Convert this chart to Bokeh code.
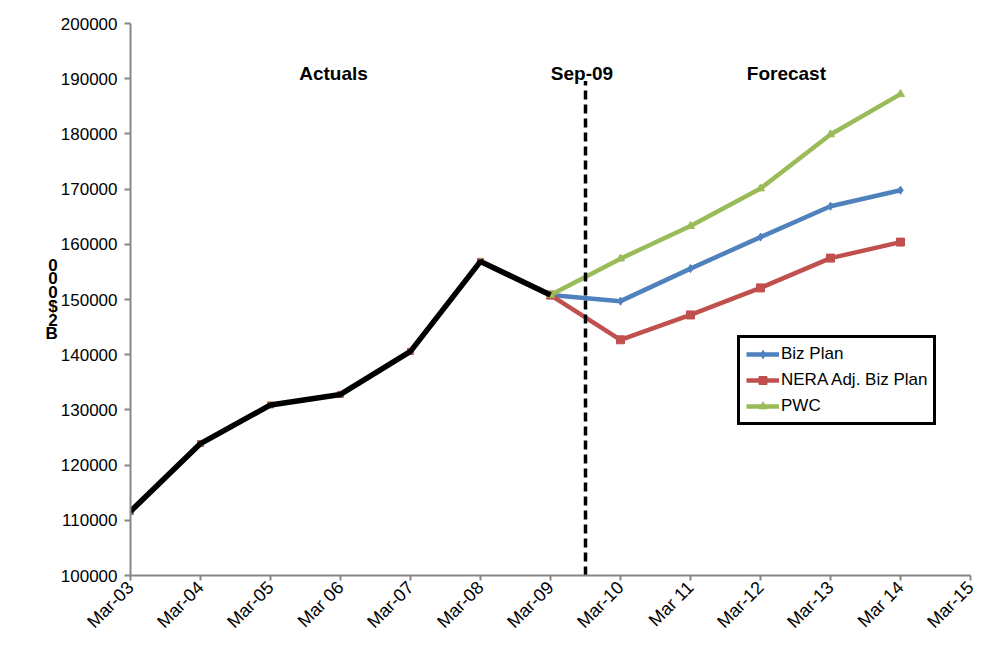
from bokeh.plotting import figure
from bokeh.models import Range1d, FixedTicker, BasicTickFormatter, Label, Legend, LegendItem
from bokeh.embed import file_html
from bokeh.resources import INLINE
import math

months = ["Mar-03", "Mar-04", "Mar-05", "Mar 06", "Mar-07", "Mar-08", "Mar-09",
          "Mar-10", "Mar 11", "Mar-12", "Mar-13", "Mar 14", "Mar-15"]
actual_idx = [0, 1, 2, 3, 4, 5, 6]
actuals = [111600, 123900, 130900, 132800, 140600, 156900, 150800]
fc_idx = [6, 7, 8, 9, 10, 11]
biz_plan = [150800, 149700, 155600, 161300, 166900, 169800]
nera = [150800, 142700, 147200, 152100, 157500, 160400]
pwc = [150800, 157400, 163300, 170100, 179900, 187200]
sep09_x = 6.5
yticks = list(range(100000, 200001, 10000))
y_label = "0\n0\n0\n$\n2\nB"

FONT = "Liberation Sans"

p = figure(width=989, height=649, output_backend="svg", toolbar_location=None,
           x_range=Range1d(0, 12), y_range=Range1d(100000, 200000),
           min_border_left=130, min_border_right=19, min_border_top=23, min_border_bottom=74)
p.outline_line_color = None
p.xgrid.visible = False
p.ygrid.visible = False
p.background_fill_color = "white"
p.border_fill_color = "white"

for ax in (p.xaxis[0], p.yaxis[0]):
    ax.axis_line_color = "#868686"
    ax.axis_line_width = 2
    ax.major_tick_line_color = "#868686"
    ax.major_tick_line_width = 2
    ax.minor_tick_line_color = None
    ax.major_label_text_font = FONT
    ax.major_label_text_color = "black"

p.yaxis.ticker = FixedTicker(ticks=yticks)
p.yaxis.formatter = BasicTickFormatter(use_scientific=False)
p.yaxis.major_tick_in = 0
p.yaxis.major_tick_out = 6
p.yaxis.major_label_standoff = 7
p.yaxis.major_label_text_font_size = "17px"
p.yaxis.axis_label = y_label
p.yaxis.axis_label_orientation = "horizontal"
p.yaxis.axis_label_text_font = FONT
p.yaxis.axis_label_text_font_style = "bold"
p.yaxis.axis_label_text_font_size = "17px"
p.yaxis.axis_label_text_color = "black"
p.yaxis.axis_label_text_line_height = 0.72
p.yaxis.axis_label_text_align = "center"
p.yaxis.axis_label_standoff = 0

p.xaxis.ticker = FixedTicker(ticks=list(range(len(months))))
p.xaxis.major_label_overrides = {i: m for i, m in enumerate(months)}
p.xaxis.major_label_orientation = math.pi / 4
p.xaxis.major_tick_in = 0
p.xaxis.major_tick_out = 5
p.xaxis.major_label_standoff = 4
p.xaxis.major_label_text_font_size = "18px"

blue, red, green = "#4F81BD", "#C0504D", "#9BBB59"

series = [("Biz Plan", biz_plan, blue, "diamond_cross"),
          ("NERA Adj. Biz Plan", nera, red, "square"),
          ("PWC", pwc, green, "triangle")]
items = []
for name, vals, col, mk in series:
    p.scatter(actual_idx, actuals, size=6, marker=mk, color=col)
    l = p.line(fc_idx, vals, line_color=col, line_width=4.5)
    s = p.scatter(fc_idx, vals, size=8, marker=mk, color=col, line_color=col)
    items.append(LegendItem(label=name, renderers=[l, s]))

p.line(actual_idx, actuals, line_color="black", line_width=5.5)

p.segment(x0=[sep09_x], y0=[100000], x1=[sep09_x], y1=[189600], line_color="black",
          line_width=3.5, line_dash="9 5")

for txt, x in [("Actuals", 2.9), ("Sep-09", 6.45), ("Forecast", 9.37)]:
    p.add_layout(Label(x=x, y=190900, text=txt, text_font=FONT, text_font_style="bold",
                       text_font_size="19px", text_color="black",
                       text_align="center", text_baseline="middle"))

legend = Legend(items=items, location=(607, 150), border_line_color="black",
                border_line_alpha=1, border_line_width=3,
                background_fill_color="white", background_fill_alpha=1,
                label_text_font=FONT, label_text_font_size="17px", label_text_color="black",
                glyph_width=33, glyph_height=20, spacing=6, padding=6, margin=0,
                label_standoff=2, label_height=20)
p.add_layout(legend)

open("out.html", "w").write(file_html(p, INLINE))
